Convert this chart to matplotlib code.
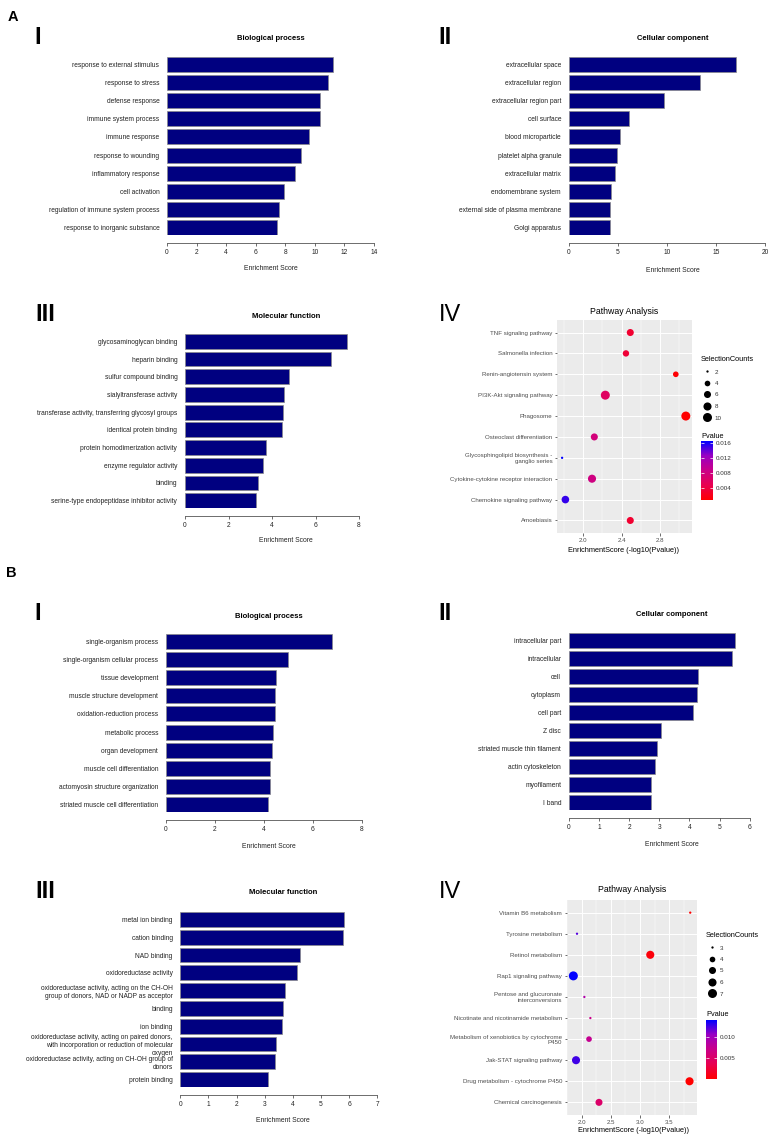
import numpy as np
import matplotlib
matplotlib.use('Agg')
import matplotlib.pyplot as plt
from matplotlib.colors import LinearSegmentedColormap, Normalize
from matplotlib.cm import ScalarMappable
from matplotlib.lines import Line2D

plt.rcParams['font.family'] = ['Liberation Sans', 'DejaVu Sans']

# ---- data ----
a_bp_terms = ['response to external stimulus', 'response to stress', 'defense response',
              'immune system process', 'immune response', 'response to wounding',
              'inflammatory response', 'cell activation',
              'regulation of immune system process', 'response to inorganic substance']
a_bp_scores = [11.24, 10.90, 10.38, 10.34, 9.62, 9.03, 8.67, 7.91, 7.60, 7.46]

a_cc_terms = ['extracellular space', 'extracellular region', 'extracellular region part',
              'cell surface', 'blood microparticle', 'platelet alpha granule',
              'extracellular matrix', 'endomembrane system',
              'external side of plasma membrane', 'Golgi apparatus']
a_cc_scores = [17.0, 13.41, 9.68, 6.11, 5.26, 4.96, 4.72, 4.35, 4.18, 4.18]

a_mf_terms = ['glycosaminoglycan binding', 'heparin binding', 'sulfur compound binding',
              'sialyltransferase activity',
              'transferase activity, transferring glycosyl groups',
              'identical protein binding', 'protein homodimerization activity',
              'enzyme regulator activity', 'binding',
              'serine-type endopeptidase inhibitor activity']
a_mf_scores = [7.45, 6.71, 4.78, 4.57, 4.52, 4.46, 3.74, 3.59, 3.34, 3.25]

a_path_names = ['TNF signaling pathway', 'Salmonella infection', 'Renin-angiotensin system',
                'PI3K-Akt signaling pathway', 'Phagosome', 'Osteoclast differentiation',
                'Glycosphingolipid biosynthesis -\nganglio series',
                'Cytokine-cytokine receptor interaction', 'Chemokine signaling pathway',
                'Amoebiasis']
a_path_scores = [2.49, 2.445, 2.962, 2.231, 3.066, 2.117, 1.783, 2.093, 1.817, 2.49]
a_path_counts = [6, 5, 4, 10, 10, 6, 2, 8, 7, 6]
a_path_pvals = [0.0032, 0.0036, 0.0011, 0.0059, 0.00086, 0.0076, 0.0165, 0.0081, 0.0152, 0.0032]

b_bp_terms = ['single-organism process', 'single-organism cellular process',
              'tissue development', 'muscle structure development',
              'oxidation-reduction process', 'metabolic process', 'organ development',
              'muscle cell differentiation', 'actomyosin structure organization',
              'striated muscle cell differentiation']
b_bp_scores = [6.78, 5.01, 4.52, 4.48, 4.45, 4.39, 4.34, 4.27, 4.27, 4.19]

b_cc_terms = ['intracellular part', 'intracellular', 'cell', 'cytoplasm', 'cell part',
              'Z disc', 'striated muscle thin filament', 'actin cytoskeleton',
              'myofilament', 'I band']
b_cc_scores = [5.51, 5.41, 4.27, 4.25, 4.13, 3.05, 2.94, 2.85, 2.74, 2.74]

b_mf_terms = ['metal ion binding', 'cation binding', 'NAD binding', 'oxidoreductase activity',
              'oxidoreductase activity, acting on the CH-OH\ngroup of donors, NAD or NADP as acceptor',
              'binding', 'ion binding',
              'oxidoreductase activity, acting on paired donors,\nwith incorporation or reduction of molecular\noxygen',
              'oxidoreductase activity, acting on CH-OH group of\ndonors',
              'protein binding']
b_mf_scores = [5.83, 5.79, 4.27, 4.16, 3.72, 3.64, 3.61, 3.41, 3.35, 3.13]

b_path_names = ['Vitamin B6 metabolism', 'Tyrosine metabolism', 'Retinol metabolism',
                'Rap1 signaling pathway', 'Pentose and glucuronate\ninterconversions',
                'Nicotinate and nicotinamide metabolism',
                'Metabolism of xenobiotics by cytochrome\nP450',
                'Jak-STAT signaling pathway', 'Drug metabolism - cytochrome P450',
                'Chemical carcinogenesis']
b_path_scores = [3.863, 1.92, 3.177, 1.857, 2.046, 2.149, 2.126, 1.903, 3.851, 2.297]
b_path_counts = [3, 3, 6, 7, 3, 3, 4, 6, 6, 5]
b_path_pvals = [0.000137, 0.0120, 0.000665, 0.0139, 0.0090, 0.0071, 0.0075, 0.0125,
                0.000141, 0.00505]

# ---- layout helpers (pixel coords, 770x1135) ----
W, H = 770, 1135
fig = plt.figure(figsize=(W / 100, H / 100), dpi=100)

def add_ax(l, t, r, b):
    return fig.add_axes([l / W, 1 - b / H, (r - l) / W, (b - t) / H])

def ftext(x, y, s, **kw):
    kw.setdefault('ha', 'center')
    kw.setdefault('va', 'center')
    fig.text(x / W, 1 - y / H, s, **kw)

# ggplot-like red -> blue gradient (Lab interpolated)
cmap = LinearSegmentedColormap.from_list(
    'pv', ['#FF0000', '#E80050', '#CA0088', '#9A00C2', '#0000FF'])


def bar_panel(box, terms, scores, xmax, step, title, title_xy, xlab_xy):
    l, t, r, b = box
    ax = add_ax(l, t, r, b)
    n = len(terms)
    pos = np.arange(n)[::-1]
    ax.barh(pos, scores, height=1 / 1.2, color='#000080', edgecolor='#8a8a8a', linewidth=0.5)
    ax.set_ylim(-0.5 / 1.2, n - 1 + 0.5 / 1.2)
    ax.set_xlim(0, xmax)
    ax.set_xticks(np.arange(0, xmax + step / 2, step))
    ax.set_yticks(pos, terms)
    ax.tick_params(axis='y', length=0, pad=5.5, labelsize=4.8, labelcolor='#222222')
    ax.tick_params(axis='x', length=2.2, width=0.5, pad=2.2, labelsize=4.8,
                   color='#333333', labelcolor='#222222')
    for s in ['top', 'right', 'left']:
        ax.spines[s].set_visible(False)
    ax.spines['bottom'].set_position(('outward', 5.8))
    ax.spines['bottom'].set_linewidth(0.5)
    ax.spines['bottom'].set_color('#333333')
    ax.patch.set_visible(False)
    ftext(*title_xy, title, fontsize=5.5, fontweight='bold')
    ftext(*xlab_xy, 'Enrichment Score', fontsize=4.9, color='#222222')
    return ax


def dot_panel(box, names, scores, counts, pvals, xlim, xticks, xminor, xticklabels,
              title_xy, xlab_xy, leg_xy, cbar_box, cticks, cticklabels):
    l, t, r, b = box
    ax = add_ax(l, t, r, b)
    n = len(names)
    ypos = np.arange(n)[::-1] + 1
    ax.set_facecolor('#EBEBEB')
    ax.set_xlim(*xlim)
    ax.set_ylim(0.4, n + 0.6)
    ax.set_xticks(xticks, xticklabels)
    ax.set_xticks(xminor, minor=True)
    ax.set_yticks(ypos, names)
    ax.grid(which='major', color='white', linewidth=0.7)
    ax.grid(which='minor', axis='x', color='white', linewidth=0.35)
    ax.set_axisbelow(True)
    for s in ax.spines.values():
        s.set_visible(False)
    ax.tick_params(which='major', length=1.8, width=0.5, color='#333333',
                   labelsize=4.4, labelcolor='#4D4D4D', pad=1.5)
    ax.tick_params(which='minor', length=0)

    cmin, cmax = min(counts), max(counts)
    dmin, dmax = 2.3 * 0.72, 9.0 * 0.72

    def diam(c):
        return dmin + (dmax - dmin) * np.sqrt((c - cmin) / (cmax - cmin))

    sizes = [diam(c) ** 2 for c in counts]
    norm = Normalize(vmin=min(pvals), vmax=max(pvals))
    ax.scatter(scores, ypos, s=sizes, c=pvals, cmap=cmap, norm=norm, linewidths=0, zorder=3)

    ftext(*title_xy, 'Pathway Analysis', fontsize=6.3)
    ftext(*xlab_xy, 'EnrichmentScore (-log10(Pvalue))', fontsize=5.3)

    # size legend
    brks = list(range(cmin, cmax + 1, 1 if cmax - cmin <= 5 else 2))
    handles = [Line2D([], [], marker='o', ls='', color='black', markersize=diam(c),
                      markeredgewidth=0) for c in brks]
    leg = ax.legend(handles, [str(c) for c in brks], title='SelectionCounts',
                    loc='upper left', bbox_to_anchor=(leg_xy[0] / W, 1 - leg_xy[1] / H),
                    bbox_transform=fig.transFigure, frameon=False, fontsize=4.5,
                    title_fontsize=5.3, borderpad=0, borderaxespad=0, handlelength=2.0,
                    handletextpad=0.2, labelspacing=0.98, alignment='left')
    for txt in leg.get_texts():
        txt.set_color('#333333')

    # colourbar
    cl, ct, cr, cb_ = cbar_box
    cax = add_ax(cl, ct, cr, cb_)
    cb = fig.colorbar(ScalarMappable(norm=norm, cmap=cmap), cax=cax)
    cb.outline.set_visible(False)
    cb.set_ticks(cticks, labels=cticklabels)
    cax.tick_params(left=True, right=True, labelleft=False, labelright=True,
                    direction='in', length=2.2, width=0.5, color='white',
                    labelsize=4.5, labelcolor='#333333', pad=2)
    ftext(cl, ct - 5, 'Pvalue', fontsize=5.3, ha='left')
    return ax


# ---- A ----
ftext(13, 17, 'A', fontsize=10.5, fontweight='bold')
ftext(38, 38, 'I', fontsize=17, fontweight='bold')
ftext(445, 38, 'II', fontsize=17, fontweight='bold')
ftext(45, 315, 'III', fontsize=17, fontweight='bold')
ftext(450, 315, 'IV', fontsize=17)

bar_panel((167, 57, 374, 235), a_bp_terms, a_bp_scores, 14, 2,
          'Biological process', (271, 39), (271, 268))
bar_panel((568.7, 57, 765, 235), a_cc_terms, a_cc_scores, 20, 5,
          'Cellular component', (673, 39), (673, 270))
bar_panel((185, 334, 359, 508), a_mf_terms, a_mf_scores, 8, 2,
          'Molecular function', (286, 317), (286, 541))
dot_panel((557, 320, 692, 533), a_path_names, a_path_scores, a_path_counts, a_path_pvals,
          (1.73, 3.13), [2.0, 2.4, 2.8], [1.8, 2.2, 2.6, 3.0], ['2.0', '2.4', '2.8'],
          (624, 312), (624, 550), (701, 356), (701, 441, 713, 500),
          [0.004, 0.008, 0.012, 0.016], ['0.004', '0.008', '0.012', '0.016'])

# ---- B ----
ftext(11, 573, 'B', fontsize=10.5, fontweight='bold')
ftext(38, 614, 'I', fontsize=17, fontweight='bold')
ftext(445, 613, 'II', fontsize=17, fontweight='bold')
ftext(45, 892, 'III', fontsize=17, fontweight='bold')
ftext(450, 892, 'IV', fontsize=17)

bar_panel((165.7, 634, 361.7, 812), b_bp_terms, b_bp_scores, 8, 2,
          'Biological process', (269, 617), (269, 846))
bar_panel((568.7, 633, 749.7, 810), b_cc_terms, b_cc_scores, 6, 1,
          'Cellular component', (672, 614), (672, 845))
bar_panel((180.3, 912, 377.3, 1087), b_mf_terms, b_mf_scores, 7, 1,
          'Molecular function', (283, 893), (283, 1121))
dot_panel((566.7, 900, 696.7, 1115), b_path_names, b_path_scores, b_path_counts, b_path_pvals,
          (1.743, 3.974), [2.0, 2.5, 3.0, 3.5], [1.75, 2.25, 2.75, 3.25, 3.75],
          ['2.0', '2.5', '3.0', '3.5'],
          (632, 889), (633, 1130), (706, 932), (706, 1020, 717, 1079),
          [0.005, 0.010], ['0.005', '0.010'])

fig.savefig('out.png', dpi=100)
